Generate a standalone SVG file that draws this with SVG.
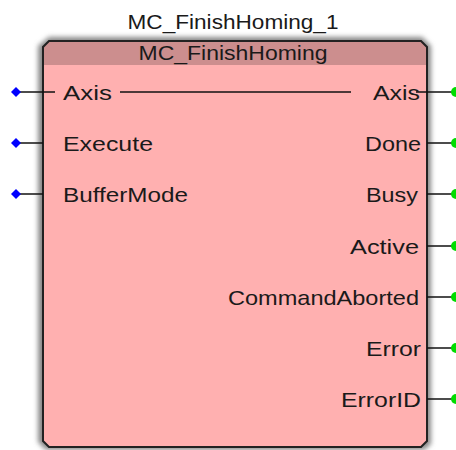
<svg xmlns="http://www.w3.org/2000/svg" width="456" height="450" viewBox="0 0 456 450">
<style>
text{font-family:"Liberation Sans",Arial,sans-serif;font-size:21px;fill:#1a1a1a}
.r{text-anchor:end}
.ln{stroke:#111;stroke-width:1.5;fill:none}
.in{fill:#0000ff}
.out{fill:#00dd00}
</style>
<defs>
<filter id="sh" x="-10%" y="-10%" width="120%" height="120%"><feGaussianBlur stdDeviation="2.5"/></filter>
</defs>
<rect width="456" height="450" fill="#fff"/>
<g id="block">
<path d="M49,37 H422 L431,46 V444 L424,450 H46 L38,442 V46 Z" fill="#888" filter="url(#sh)"/>
<path d="M49,41 H421 L427,47 V441 L421,447 H49 L43,441 V47 Z" fill="#ffb0b0"/>
<path d="M49,41 H421 L427,47 V65 H43 V47 Z" fill="#cc8e8e"/>
<path d="M49,41 H421 L427,47 V441 L421,447 H49 L43,441 V47 Z" fill="none" stroke="#222" stroke-width="2"/>
<text x="233" y="29" text-anchor="middle" textLength="211" lengthAdjust="spacingAndGlyphs">MC_FinishHoming_1</text>
<text x="233" y="60" text-anchor="middle" textLength="189" lengthAdjust="spacingAndGlyphs">MC_FinishHoming</text>
</g>
<g id="connectors">
<line class="ln" x1="16" y1="92" x2="55" y2="92"/>
<line class="ln" x1="120" y1="92" x2="351" y2="92"/>
<line class="ln" x1="416" y1="92" x2="452" y2="92"/>
<line class="ln" x1="16" y1="143" x2="43" y2="143"/>
<line class="ln" x1="16" y1="194" x2="43" y2="194"/>
<line class="ln" x1="427" y1="143" x2="452" y2="143"/>
<line class="ln" x1="427" y1="194" x2="452" y2="194"/>
<line class="ln" x1="427" y1="246" x2="452" y2="246"/>
<line class="ln" x1="427" y1="297" x2="452" y2="297"/>
<line class="ln" x1="427" y1="348" x2="452" y2="348"/>
<line class="ln" x1="427" y1="399" x2="452" y2="399"/>
</g>
<g id="inputs">
<path class="in" d="M16,87 L21,92 L16,97 L11,92 Z"/>
<path class="in" d="M16,138 L21,143 L16,148 L11,143 Z"/>
<path class="in" d="M16,189 L21,194 L16,199 L11,194 Z"/>
<text x="63" y="100" textLength="49" lengthAdjust="spacingAndGlyphs">Axis</text>
<text x="63" y="151" textLength="90" lengthAdjust="spacingAndGlyphs">Execute</text>
<text x="63" y="202" textLength="125" lengthAdjust="spacingAndGlyphs">BufferMode</text>
</g>
<g id="outputs">
<circle class="out" cx="456" cy="92" r="5"/>
<circle class="out" cx="456" cy="143" r="5"/>
<circle class="out" cx="456" cy="194" r="5"/>
<circle class="out" cx="456" cy="246" r="5"/>
<circle class="out" cx="456" cy="297" r="5"/>
<circle class="out" cx="456" cy="348" r="5"/>
<circle class="out" cx="456" cy="399" r="5"/>
<text class="r" x="420" y="100" textLength="47" lengthAdjust="spacingAndGlyphs">Axis</text>
<text class="r" x="421" y="151" textLength="56" lengthAdjust="spacingAndGlyphs">Done</text>
<text class="r" x="418" y="202" textLength="52" lengthAdjust="spacingAndGlyphs">Busy</text>
<text class="r" x="419" y="254" textLength="69" lengthAdjust="spacingAndGlyphs">Active</text>
<text class="r" x="419" y="305" textLength="191" lengthAdjust="spacingAndGlyphs">CommandAborted</text>
<text class="r" x="421" y="356" textLength="55" lengthAdjust="spacingAndGlyphs">Error</text>
<text class="r" x="421" y="407" textLength="80" lengthAdjust="spacingAndGlyphs">ErrorID</text>
</g>
</svg>
